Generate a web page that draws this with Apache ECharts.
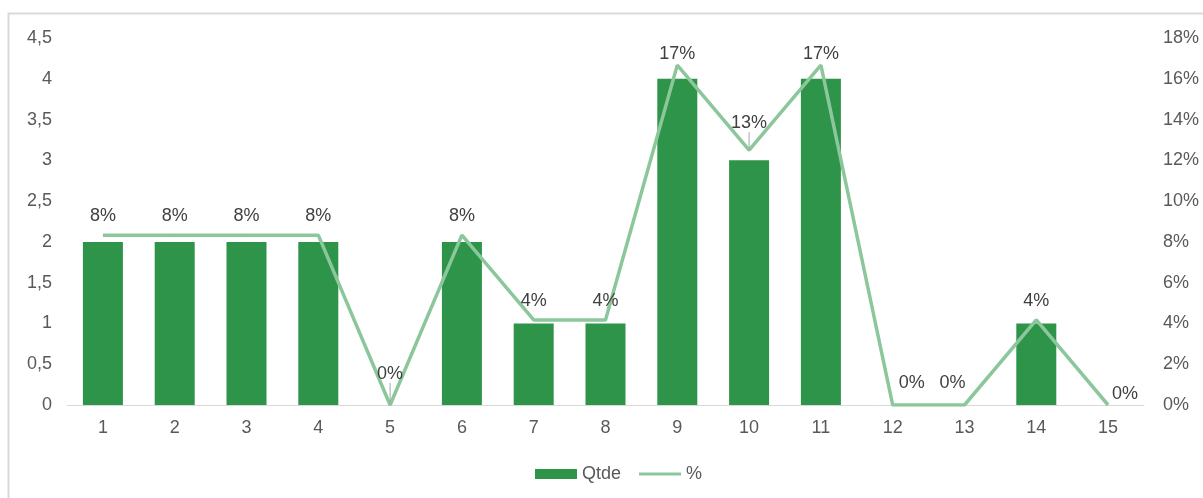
<!DOCTYPE html>
<html>
<head>
<meta charset="utf-8">
<script src="https://cdn.jsdelivr.net/npm/echarts@6/dist/echarts.min.js"></script>
<style>
  html, body { margin: 0; padding: 0; background: #fff; }
  #chart { width: 1203px; height: 498px; }
</style>
</head>
<body>
<div id="chart"></div>
<script>
// Categories and series
var categories = ['1','2','3','4','5','6','7','8','9','10','11','12','13','14','15'];
var qtde = [2, 2, 2, 2, 0, 2, 1, 1, 4, 3, 4, 0, 0, 1, 0];
var percent = [8.33, 8.33, 8.33, 8.33, 0, 8.33, 4.17, 4.17, 16.67, 12.5, 16.67, 0, 0, 4.17, 0];
var leftTicks = ['0','0,5','1','1,5','2','2,5','3','3,5','4','4,5'];

var FONT = '"Liberation Sans", Arial, sans-serif';
var TEXT = '#595959';

// small nudges so labels sit clear of the line and of each other
var labelNudge = {
  4: [0, -12], 8: [0, 8], 9: [0, -8], 10: [0, 8],
  11: [19, -3], 12: [-12, -3], 14: [17, 8]
};
// labels that were lifted off the line get a thin leader
var withLeader = { 4: true, 9: true };

var lineData = percent.map(function (v, i) {
  var item = { value: v };
  if (withLeader[i]) item.labelLine = { show: true };
  return item;
});

var chart = echarts.init(document.getElementById('chart'));
chart.setOption({
  animation: false,
  backgroundColor: '#fff',
  textStyle: { fontFamily: FONT },
  graphic: [{
    type: 'rect',
    shape: { x: 8.5, y: 13.5, width: 1220, height: 520 },
    style: { fill: 'none', stroke: '#d9d9d9', lineWidth: 2 },
    silent: true
  }],
  grid: { left: 67, right: 59, top: 38, bottom: 93 },
  legend: {
    bottom: 10,
    left: 530,
    itemWidth: 42,
    itemHeight: 10,
    itemGap: 18,
    textStyle: { color: TEXT, fontSize: 18, fontFamily: FONT },
    data: [
      { name: 'Qtde', icon: 'rect' },
      { name: '%', icon: 'path://M0,4 L42,4 L42,7 L0,7 Z' }
    ]
  },
  xAxis: {
    type: 'category',
    data: categories,
    axisLine: { lineStyle: { color: '#d9d9d9', width: 1 } },
    axisTick: { show: false },
    axisLabel: { color: TEXT, fontSize: 18, margin: 14 }
  },
  yAxis: [{
    type: 'value',
    min: 0, max: 4.5, interval: 0.5,
    splitLine: { show: false },
    axisLine: { show: false },
    axisTick: { show: false },
    axisLabel: {
      color: TEXT, fontSize: 18, margin: 15,
      formatter: function (v) { return leftTicks[Math.round(v / 0.5)]; }
    }
  }, {
    type: 'value',
    min: 0, max: 18, interval: 2,
    splitLine: { show: false },
    axisLine: { show: false },
    axisTick: { show: false },
    axisLabel: { color: TEXT, fontSize: 18, margin: 19, formatter: '{value}%' }
  }],
  series: [{
    name: 'Qtde',
    type: 'bar',
    data: qtde,
    barWidth: 40,
    itemStyle: { color: '#2e9449' }
  }, {
    name: '%',
    type: 'line',
    yAxisIndex: 1,
    data: lineData,
    symbol: 'circle',
    symbolSize: 0.1,
    showSymbol: true,
    lineStyle: { color: '#8cc79b', width: 3.5 },
    itemStyle: { color: '#8cc79b' },
    label: {
      show: true,
      position: 'top',
      distance: 10,
      color: '#404040',
      fontSize: 18,
      formatter: function (p) { return Math.round(p.value) + '%'; }
    },
    labelLine: {
      show: false,
      lineStyle: { color: '#a6a6a6', width: 1 }
    },
    labelLayout: function (p) {
      var n = labelNudge[p.dataIndex];
      return n ? { dx: n[0], dy: n[1] } : {};
    }
  }]
});
</script>
</body>
</html>
